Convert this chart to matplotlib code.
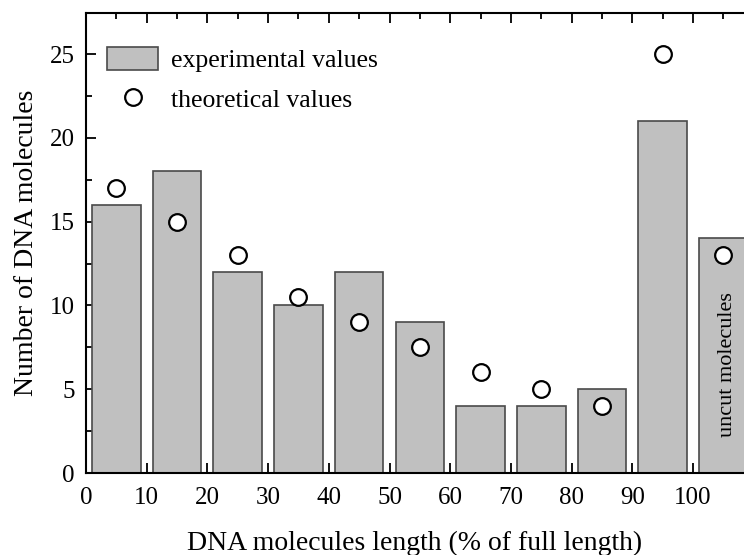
import matplotlib
matplotlib.use('Agg')
import matplotlib.pyplot as plt
from matplotlib.ticker import MultipleLocator

plt.rcParams['font.family'] = ['Liberation Serif', 'DejaVu Serif']

# bin centres (% of full length), last bin = uncut molecules
centers = [5, 15, 25, 35, 45, 55, 65, 75, 85, 95, 105]
experimental = [16, 18, 12, 10, 12, 9, 4, 4, 5, 21, 14]
theoretical = [17, 15, 13, 10.5, 9, 7.5, 6, 5, 4, 25, 13]

fig = plt.figure(figsize=(7.44, 5.55), dpi=100)
ax = fig.add_axes([0.1156, 0.1477, 0.8844, 0.8289])

bars = ax.bar(centers, experimental, width=8, color='#c0c0c0', edgecolor='#4a4a4a',
              linewidth=1.2, zorder=2)
pts, = ax.plot(centers, theoretical, 'o', ms=12, mfc='white', mec='black', mew=1.6,
               zorder=3, clip_on=False)

ax.text(105.6, 6.5, 'uncut molecules', rotation=90, ha='center', va='center', fontsize=16)

ax.set_xlim(0, 108.4)
ax.set_ylim(0, 27.45)
ax.xaxis.set_major_locator(MultipleLocator(10))
ax.xaxis.set_minor_locator(MultipleLocator(5))
ax.yaxis.set_major_locator(MultipleLocator(5))
ax.yaxis.set_minor_locator(MultipleLocator(2.5))
ax.tick_params(which='both', direction='in', top=True, right=False, labelsize=18, width=1.3)
ax.tick_params(which='major', length=7)
ax.tick_params(which='minor', length=4)
ax.tick_params(axis='x', pad=10)
ax.tick_params(axis='y', pad=8)
ax.spines['right'].set_visible(False)
for s in ['left', 'bottom', 'top']:
    ax.spines[s].set_linewidth(1.5)

ax.set_xlabel('DNA molecules length (% of full length)', fontsize=20, labelpad=16)
ax.set_ylabel('Number of DNA molecules', fontsize=20, labelpad=8)

ax.legend([bars, pts], ['experimental values', 'theoretical values'],
          loc='upper left', frameon=False, fontsize=18.5, handlelength=2.0,
          handleheight=1.0, bbox_to_anchor=(0.032, 0.926), borderpad=0,
          borderaxespad=0, labelspacing=0.55, handletextpad=0.5)

plt.savefig('out.png', dpi=100)
